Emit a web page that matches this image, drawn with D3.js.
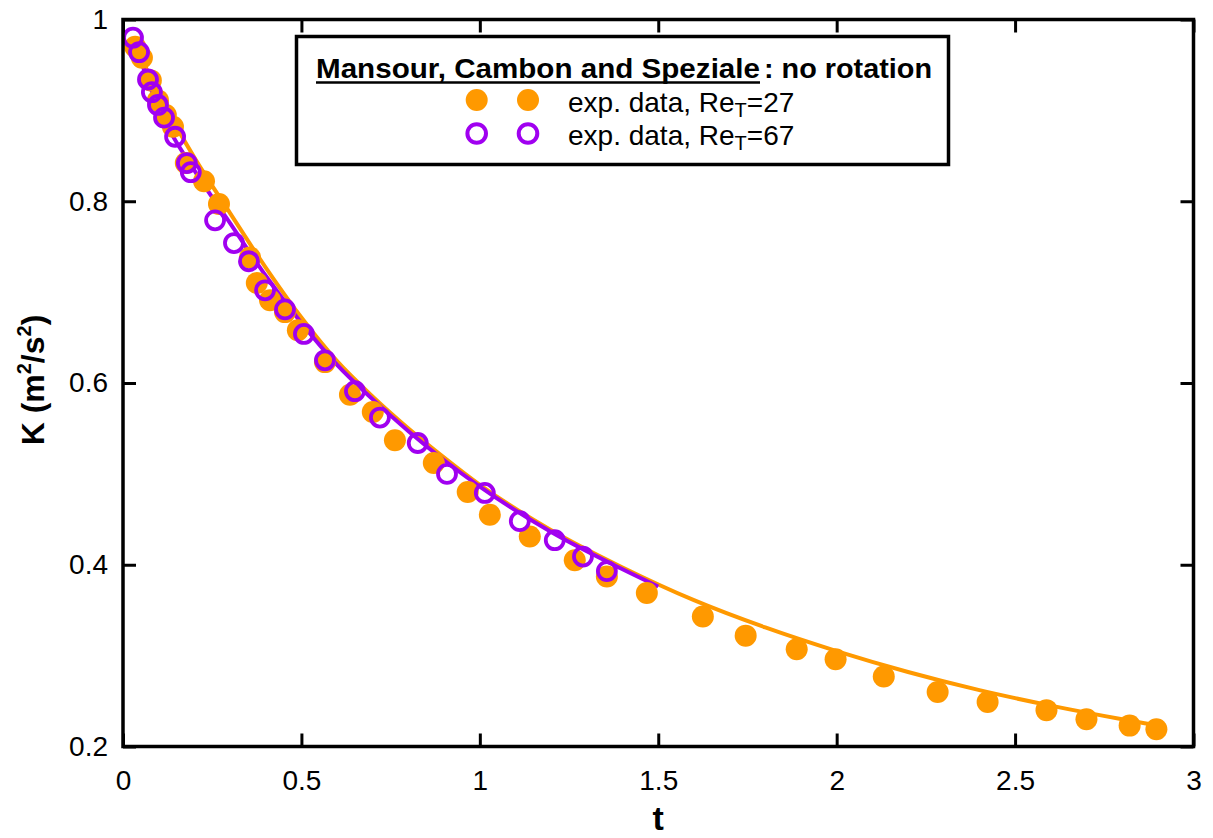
<!DOCTYPE html>
<html>
<head>
<meta charset="utf-8">
<script src="https://cdn.jsdelivr.net/npm/d3@7"></script>
<style>
  body { margin: 0; background: #fff; }
  svg { display: block; font-family: "Liberation Sans", Arial, Helvetica, sans-serif; }
</style>
</head>
<body>
<div id="chart"></div>
<script>
// exp. data, Re_T = 27 (filled orange)
var t27 = [0.034, 0.053, 0.078, 0.098, 0.120, 0.140, 0.176, 0.227, 0.269, 0.356, 0.375, 0.412, 0.454, 0.490,
           0.566, 0.636, 0.700, 0.762, 0.871, 0.966, 1.028, 1.140, 1.266, 1.356, 1.468, 1.625, 1.745, 1.888,
           1.997, 2.132, 2.283, 2.423, 2.588, 2.700, 2.821, 2.896];
var k27 = [0.970, 0.958, 0.933, 0.911, 0.895, 0.882, 0.842, 0.822, 0.797, 0.738, 0.710, 0.691, 0.678, 0.658,
           0.623, 0.587, 0.568, 0.537, 0.512, 0.480, 0.455, 0.431, 0.405, 0.387, 0.369, 0.343, 0.322, 0.307,
           0.296, 0.277, 0.260, 0.249, 0.240, 0.230, 0.223, 0.219];

// exp. data, Re_T = 67 (open purple)
var t67 = [0.028, 0.045, 0.070, 0.081, 0.098, 0.115, 0.146, 0.179, 0.190, 0.258, 0.311, 0.353, 0.398, 0.454,
           0.507, 0.566, 0.650, 0.720, 0.826, 0.908, 1.014, 1.112, 1.210, 1.289, 1.356];
var k67 = [0.980, 0.964, 0.934, 0.920, 0.906, 0.892, 0.871, 0.842, 0.832, 0.779, 0.754, 0.734, 0.702, 0.681,
           0.654, 0.625, 0.591, 0.562, 0.534, 0.500, 0.479, 0.448, 0.427, 0.409, 0.393];

// model curves
var tLine27 = [0.03, 0.1, 0.2, 0.3, 0.4, 0.5, 0.6, 0.7, 0.8, 0.9, 1.0, 1.2, 1.4, 1.6, 1.8, 2.0, 2.2, 2.4, 2.6, 2.8, 2.9];
var kLine27 = [0.976, 0.918, 0.848, 0.787, 0.727, 0.672, 0.624, 0.585, 0.550, 0.518, 0.488, 0.438, 0.397, 0.361,
               0.331, 0.305, 0.282, 0.262, 0.245, 0.230, 0.223];
var tLine67 = [0.03, 0.1, 0.2, 0.3, 0.4, 0.5, 0.6, 0.7, 0.8, 0.9, 1.0, 1.2, 1.4, 1.5];
var kLine67 = [0.978, 0.902, 0.834, 0.776, 0.718, 0.666, 0.620, 0.582, 0.547, 0.515, 0.486, 0.436, 0.395, 0.376];

var xTicks = [0, 0.5, 1, 1.5, 2, 2.5, 3];
var yTicks = [0.2, 0.4, 0.6, 0.8, 1];

var orange = "#ff9900", purple = "#a000f0";

var W = 1213, H = 838;
var svg = d3.select("#chart").append("svg").attr("width", W).attr("height", H);

var x = d3.scaleLinear().domain([0, 3]).range([123, 1193.5]);
var y = d3.scaleLinear().domain([0.2, 1]).range([746.5, 19.5]);

// lines
var line = d3.line()
    .x(function(d) { return x(d[0]); })
    .y(function(d) { return y(d[1]); })
    .curve(d3.curveMonotoneX);

svg.append("path")
    .datum(d3.zip(tLine27, kLine27))
    .attr("d", line)
    .attr("fill", "none")
    .attr("stroke", orange)
    .attr("stroke-width", 4);

svg.append("path")
    .datum(d3.zip(tLine67, kLine67))
    .attr("d", line)
    .attr("fill", "none")
    .attr("stroke", purple)
    .attr("stroke-width", 4);

// markers
svg.append("g").selectAll("circle")
    .data(d3.zip(t27, k27))
    .enter().append("circle")
      .attr("cx", function(d) { return x(d[0]); })
      .attr("cy", function(d) { return y(d[1]); })
      .attr("r", 11)
      .attr("fill", orange);

svg.append("g").selectAll("circle")
    .data(d3.zip(t67, k67))
    .enter().append("circle")
      .attr("cx", function(d) { return x(d[0]); })
      .attr("cy", function(d) { return y(d[1]); })
      .attr("r", 9)
      .attr("fill", "none")
      .attr("stroke", purple)
      .attr("stroke-width", 3.8);

// axes: ticks inside on all four sides
var tickLen = 13;
function styleAxis(g) {
  g.select(".domain").remove();
  g.selectAll(".tick line").attr("stroke", "#000").attr("stroke-width", 3);
  g.selectAll(".tick text").attr("fill", "#000").attr("font-size", 28)
    .attr("font-family", "'Liberation Sans', Arial, Helvetica, sans-serif");
}

svg.append("g")
    .attr("transform", "translate(0," + y.range()[0] + ")")
    .call(d3.axisBottom(x).tickValues(xTicks).tickSize(-tickLen).tickPadding(24).tickFormat(d3.format("")))
    .call(styleAxis);

svg.append("g")
    .attr("transform", "translate(0," + y.range()[1] + ")")
    .call(d3.axisTop(x).tickValues(xTicks).tickSize(-tickLen).tickFormat(""))
    .call(styleAxis);

svg.append("g")
    .attr("transform", "translate(" + x.range()[0] + ",0)")
    .call(d3.axisLeft(y).tickValues(yTicks).tickSize(-tickLen).tickPadding(15).tickFormat(d3.format("")))
    .call(styleAxis);

svg.append("g")
    .attr("transform", "translate(" + x.range()[1] + ",0)")
    .call(d3.axisRight(y).tickValues(yTicks).tickSize(-tickLen).tickFormat(""))
    .call(styleAxis);

svg.append("rect")
    .attr("x", x.range()[0]).attr("y", y.range()[1])
    .attr("width", x.range()[1] - x.range()[0])
    .attr("height", y.range()[0] - y.range()[1])
    .attr("fill", "none").attr("stroke", "#000").attr("stroke-width", 3.5);

// axis titles
svg.append("text")
    .attr("x", (x.range()[0] + x.range()[1]) / 2)
    .attr("y", 830)
    .attr("text-anchor", "middle")
    .attr("font-size", 34).attr("font-weight", "bold")
    .text("t");

var yl = svg.append("text")
    .attr("transform", "translate(44,380) rotate(-90)")
    .attr("text-anchor", "middle")
    .attr("font-size", 32).attr("font-weight", "bold");
yl.append("tspan").text("K (m");
yl.append("tspan").attr("font-size", 20).attr("dy", -13).text("2");
yl.append("tspan").attr("dy", 13).text("/s");
yl.append("tspan").attr("font-size", 20).attr("dy", -13).text("2");
yl.append("tspan").attr("dy", 13).text(")");

// legend
var lg = svg.append("g");
lg.append("rect")
    .attr("x", 296.5).attr("y", 36.5).attr("width", 652).attr("height", 128)
    .attr("fill", "#fff").attr("stroke", "#000").attr("stroke-width", 3.5);

lg.append("text")
    .attr("x", 316).attr("y", 78)
    .attr("font-size", 28).attr("font-weight", "bold")
    .attr("textLength", 444).attr("lengthAdjust", "spacingAndGlyphs")
    .text("Mansour, Cambon and Speziale");
lg.append("line")
    .attr("x1", 316).attr("x2", 760).attr("y1", 82.5).attr("y2", 82.5)
    .attr("stroke", "#000").attr("stroke-width", 2.5);
lg.append("text")
    .attr("x", 764).attr("y", 78)
    .attr("font-size", 28).attr("font-weight", "bold")
    .attr("textLength", 168).attr("lengthAdjust", "spacingAndGlyphs")
    .text(": no rotation");

var legendItems = [
  {re: "27", color: orange, filled: true, cy: 100},
  {re: "67", color: purple, filled: false, cy: 133.5}
];
legendItems.forEach(function(it) {
  [476.7, 528].forEach(function(cx) {
    lg.append("circle")
      .attr("cx", cx).attr("cy", it.cy)
      .attr("r", it.filled ? 11 : 9.3)
      .attr("fill", it.filled ? it.color : "none")
      .attr("stroke", it.filled ? "none" : it.color)
      .attr("stroke-width", 4);
  });
  var tx = lg.append("text")
    .attr("x", 568).attr("y", it.cy + 11.5)
    .attr("font-size", 28);
  tx.append("tspan").text("exp. data, Re");
  tx.append("tspan").attr("font-size", 20).attr("dy", 5).text("T");
  tx.append("tspan").attr("dy", -5).text("=" + it.re);
});
</script>
</body>
</html>
